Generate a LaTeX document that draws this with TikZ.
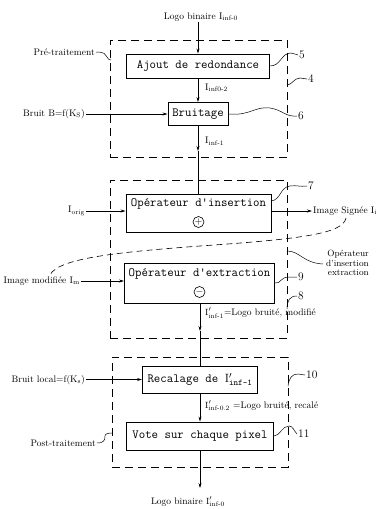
\documentclass[tikz,border=0pt]{standalone}
\usepackage{amsmath}
\usetikzlibrary{arrows.meta}
\begin{document}
\begin{tikzpicture}[x=1pt,y=-1pt,
  lbl/.style={font=\fontsize{9.5}{10}\selectfont, inner sep=1pt},
  num/.style={font=\fontsize{11.5}{12}\selectfont, inner sep=1pt, anchor=west},
  boxtxt/.style={font=\ttfamily\fontsize{12.5}{13}\selectfont, inner sep=0pt},
  blk/.style={draw, line width=0.9pt, inner sep=0pt},
  grp/.style={draw, line width=1pt, dash pattern=on 8pt off 5pt, inner sep=0pt},
  ln/.style={line width=0.6pt},
  arr/.style={ln, -{Stealth[length=5pt,width=3pt]}},
  lead/.style={line width=0.5pt},
  dcurve/.style={line width=0.6pt, dash pattern=on 6pt off 4pt},
  opcirc/.style={draw, circle, line width=0.6pt, minimum size=11pt, inner sep=0pt, font=\fontsize{10}{10}\selectfont}
]
\useasboundingbox (0,0) rectangle (381,509);

% ---------- groups (dashed) ----------
\node[grp, minimum width=177pt, minimum height=117pt] (pre) at (198.5,98.5) {};
\node[grp, minimum width=177pt, minimum height=158pt] (ioe) at (198.5,259) {};
\node[grp, minimum width=176pt, minimum height=110pt] (post) at (200,412) {};

% ---------- blocks ----------
\node[blk, minimum width=143pt, minimum height=24pt] (ajout) at (198,66) {};
\node[boxtxt] (ajouttxt) at (198,66) {Ajout de redondance};
\node[blk, minimum width=60pt, minimum height=23pt] (bruit) at (198,114) {};
\node[boxtxt] (bruittxt) at (198,114) {Bruitage};
\node[blk, minimum width=145pt, minimum height=38pt] (ins) at (198.5,213) {};
\node[boxtxt] (instxt) at (198.5,204) {Op\'erateur d'insertion};
\node[opcirc] (plus) at (198.5,222) {$+$};
\node[blk, minimum width=150pt, minimum height=40pt] (ext) at (199.5,283) {};
\node[boxtxt] (exttxt) at (199.5,274) {Op\'erateur d'extraction};
\node[opcirc] (minus) at (199.5,292) {$-$};
\node[blk, minimum width=115pt, minimum height=27pt] (rec) at (200,379.5) {};
\node[boxtxt] (rectxt) at (200,379.5) {Recalage de $\mathrm{I}'_{\text{inf-1}}$};
\node[blk, minimum width=147pt, minimum height=28pt] (vote) at (200,436) {};
\node[boxtxt] (votetxt) at (200,436) {Vote sur chaque pixel};

% ---------- labels ----------
\node[lbl] (top) at (201,17) {Logo binaire I\textsubscript{inf-0}};
\node[lbl, anchor=west] (l02) at (204,88) {I\textsubscript{inf0-2}};
\node[lbl, anchor=east] (bruitB) at (86,114) {Bruit B=f(K\textsubscript{S})};
\node[lbl, anchor=west] (l1) at (204,141) {I\textsubscript{inf-1}};
\node[lbl, anchor=east] (iorig) at (86,211) {I\textsubscript{orig}};
\node[lbl, anchor=west] (sign) at (312,211) {Image Sign\'ee I\textsubscript{i}};
\node[lbl, anchor=east] (imod) at (81,281) {Image modifi\'ee I\textsubscript{m}};
\node[lbl, anchor=west] (lmod) at (204,313) {$\mathrm{I}'_{\text{inf-1}}$=Logo bruit\'e, modifi\'e};
\node[lbl, anchor=east] (blocal) at (86,380) {Bruit local=f(K\textsubscript{s})};
\node[lbl, anchor=west] (lrec) at (204,406) {$\mathrm{I}'_{\text{inf-0.2}}$ =Logo bruit\'e, recal\'e};
\node[lbl] (bot) at (188,502) {Logo binaire $\mathrm{I}'_{\text{inf-0}}$};
\node[lbl, anchor=east] (prelbl) at (96,52) {Pr\'e-traitement};
\node[lbl, anchor=east] (postlbl) at (97,443) {Post-traitement};
\node[lbl, align=right, anchor=north east, font=\fontsize{9}{9.5}\selectfont] (ioelbl) at (370,249) {Op\'erateur\\d'insertion\\extraction};

\node[num] (n5) at (298,55) {5};
\node[num] (n4) at (307,79) {4};
\node[num] (n6) at (297,116) {6};
\node[num] (n7) at (307,186) {7};
\node[num] (n9) at (297,277) {9};
\node[num] (n8) at (297,296) {8};
\node[num] (n10) at (305,375) {10};
\node[num] (n11) at (297,434) {11};

% ---------- main flow ----------
\draw[arr] (ajout.north |- top.south) -- (ajout.north);
\draw[arr] (ajout.south) -- (ajout.south |- bruit.north);
\coordinate (m1) at (198,151);
\draw[arr] (bruit.south) -- (m1);
\draw[ln] (m1) -- (m1 |- ins.north);
\coordinate (m2) at (200,331);
\draw[arr] (ext.south -| m2) -- (m2);
\draw[ln] (m2) -- (rec.north);
\draw[arr] (rec.south) -- (vote.north);
\coordinate (endb) at (200,488);
\draw[arr] (vote.south) -- (endb);

% ---------- side inputs / outputs ----------
\draw[arr] (bruitB.east |- bruit.west) -- (bruit.west);
\draw[arr] (iorig.east) -- (iorig.east -| ins.west);
\draw[arr] (iorig.east -| ins.east) -- (sign.west);
\draw[arr] (imod.east) -- (imod.east -| ext.west);
\draw[arr] (blocal.east |- rec.west) -- (rec.west);

% ---------- dashed curve (signed image becomes modified image) ----------
\coordinate (cs) at (346,218);
\coordinate (ce) at (50,275);
\draw[dcurve] (cs) .. controls (343,234) and (300,239) .. (200,246)
   .. controls (120,252) and (58,258) .. (ce);

% ---------- leaders ----------
\draw[lead] (ajout.east) .. controls (281,66) and (281,53) .. (291,53) .. controls (294,53) and (296,55) .. (n5.west);
\draw[lead] (287,85) .. controls (292,85) and (294,78) .. (300,78) .. controls (303,78) and (304,79) .. (n4.west);
\draw[lead] (bruit.east) .. controls (250,116) and (255,106) .. (270,108) .. controls (283,110) and (285,117) .. (n6.west);
\draw[lead] (271,201) .. controls (281,200) and (280,187) .. (290,186) .. controls (297,185) and (300,187) .. (n7.west);
\draw[lead] (287,251) .. controls (300,251) and (303,263) .. (323,264);
\draw[lead] (ext.east) .. controls (281,284) and (280,277) .. (289,277) .. controls (292,277) and (294,277) .. (n9.west);
\draw[lead] (287,309) .. controls (287,300) and (290,296) .. (n8.west);
\draw[lead] (288,386) .. controls (289,378) and (292,374) .. (298,374) .. controls (301,374) and (302,375) .. (n10.west);
\draw[lead] (vote.east) .. controls (280,436) and (282,426) .. (289,426) .. controls (293,426) and (294,431) .. (n11.west);
\draw[lead] (prelbl.east) .. controls (104,52) and (106,54) .. (107,57) .. controls (108,59) and (109,60) .. (111,60);
\draw[lead] (postlbl.east) .. controls (104,443) and (105,440) .. (105,436) .. controls (105,434) and (108,433) .. (112,433);
\end{tikzpicture}
\end{document}
